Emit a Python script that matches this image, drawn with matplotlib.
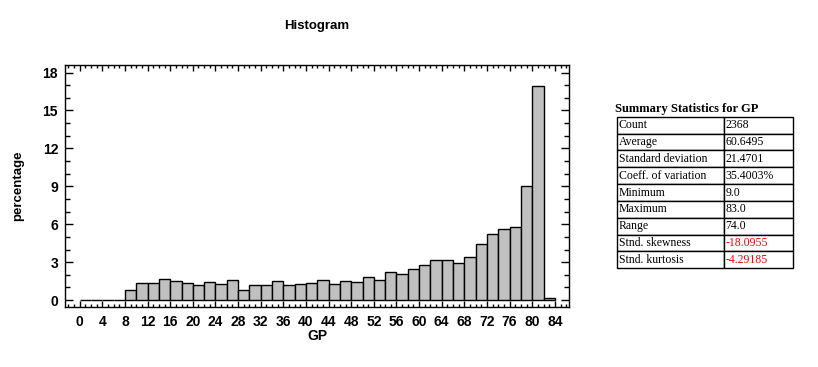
import numpy as np
import matplotlib
matplotlib.use("Agg")
import matplotlib.pyplot as plt
import matplotlib.ticker as mticker

# ── DATA ──────────────────────────────────────────────────────────────────────
bin_start = list(range(0, 84, 2))          # left edges, width 2
percent = [
    0, 0, 0, 0,
    0.79, 1.32, 1.32, 1.64, 1.48, 1.32, 1.16, 1.40, 1.24, 1.56,
    0.77, 1.16, 1.16, 1.48, 1.16, 1.24, 1.32, 1.56, 1.24, 1.48,
    1.40, 1.79, 1.56, 2.19, 2.03, 2.43, 2.74, 3.14, 3.14, 2.90,
    3.38, 4.41, 5.20, 5.59, 5.75, 9.00, 16.90, 0.15,
]
stat_names = ["Count", "Average", "Standard deviation", "Coeff. of variation",
              "Minimum", "Maximum", "Range", "Stnd. skewness", "Stnd. kurtosis"]
stat_values = ["2368", "60.6495", "21.4701", "35.4003%", "9.0", "83.0", "74.0",
               "-18.0955", "-4.29185"]
red_rows = [7, 8]

# ── STYLE ─────────────────────────────────────────────────────────────────────
plt.rcParams.update({
    "font.family": "Liberation Sans",
    "font.weight": "bold",
    "axes.linewidth": 1.0,
})
W, H = 818, 367
fig = plt.figure(figsize=(W / 100, H / 100), dpi=100)

# ── HISTOGRAM ─────────────────────────────────────────────────────────────────
ax = fig.add_axes([65 / W, 1 - 307 / H, (569 - 65) / W, (307 - 65) / H])
ax.bar(bin_start, percent, width=2, align="edge", color="#C0C0C0",
       edgecolor="black", linewidth=1.0)
ax.set_xlim(-2.6, 86.5)
ax.set_ylim(-0.55, 18.6)

ax.xaxis.set_major_locator(mticker.MultipleLocator(4))
ax.xaxis.set_minor_locator(mticker.MultipleLocator(1))
ax.yaxis.set_major_locator(mticker.MultipleLocator(3))
ax.yaxis.set_minor_locator(mticker.MultipleLocator(1))
ax.set_xticks(range(0, 85, 4))
ax.tick_params(axis="x", which="major", direction="in", length=4.5, width=1,
               top=True, bottom=True, labelsize=10, pad=6)
ax.tick_params(axis="x", which="minor", direction="in", length=2.5, width=1,
               top=True, bottom=True)
ax.tick_params(axis="y", which="major", direction="in", length=6, width=1,
               left=True, right=True, labelsize=10, pad=5)
ax.tick_params(axis="y", which="minor", direction="in", length=3.6, width=1,
               left=True, right=True)
for lbl in ax.get_xticklabels() + ax.get_yticklabels():
    lbl.set_fontweight("bold")

ax.set_xlabel("GP", fontsize=10, fontweight="bold", labelpad=0)
ax.set_ylabel("percentage", fontsize=9.5, fontweight="bold", labelpad=13)
ax.set_title("Histogram", fontsize=9.5, fontweight="bold", pad=26)

# ── SUMMARY TABLE ─────────────────────────────────────────────────────────────
fig.text(615 / W, 1 - 112 / H, "Summary Statistics for GP",
         family="Liberation Serif", fontsize=9, fontweight="bold",
         ha="left", va="baseline")

tax = fig.add_axes([616.7 / W, 1 - 268.3 / H, (793.3 - 616.7) / W,
                    (268.3 - 116.7) / H])
tax.axis("off")
cells = [[n, v] for n, v in zip(stat_names, stat_values)]
tbl = tax.table(cellText=cells, colWidths=[0.608, 0.392], loc="upper left",
                cellLoc="left", bbox=[0, 0, 1, 1])
tbl.auto_set_font_size(False)
for (r, c), cell in tbl.get_celld().items():
    cell.set_linewidth(1.0)
    cell.set_edgecolor("black")
    cell.PAD = 0.02
    txt = cell.get_text()
    txt.set_fontfamily("Liberation Serif")
    txt.set_fontweight("normal")
    txt.set_fontsize(8.5)
    if c == 1 and r in red_rows:
        txt.set_color("red")

fig.savefig("out.png", dpi=100)
